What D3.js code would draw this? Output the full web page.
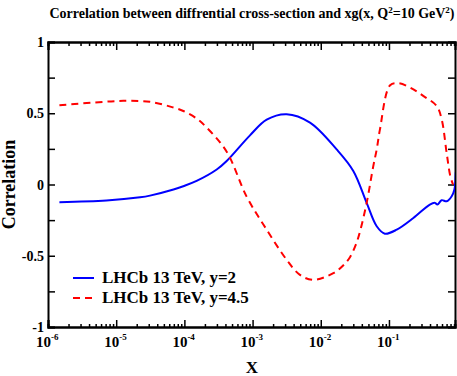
<!DOCTYPE html>
<html>
<head>
<meta charset="utf-8">
<script src="https://cdn.jsdelivr.net/npm/d3@7"></script>
<style>
  body { margin: 0; background: #fff; overflow: hidden; }
  svg { display: block; }
  text { font-family: "Liberation Serif", "Times New Roman", serif; font-weight: bold; }
</style>
</head>
<body>
<svg width="457" height="376"></svg>
<script>
// data
const blueX = [1.47e-6, 7.2e-6, 2.24e-5, 3.13e-5, 6.92e-5, 9.64e-5, 1.51e-4, 2.98e-4, 4.17e-4, 9.16e-4, 1.61e-3, 3.16e-3, 6.95e-3, 1.71e-2, 3.0e-2, 4.71e-2, 6.61e-2, 8.71e-2, 0.13, 0.228, 0.398, 0.472, 0.513, 0.593, 0.701, 0.832, 0.912, 0.955];
const blueY = [-0.124, -0.113, -0.09, -0.078, -0.035, -0.012, 0.025, 0.105, 0.165, 0.345, 0.455, 0.493, 0.434, 0.246, 0.095, -0.129, -0.293, -0.345, -0.317, -0.235, -0.141, -0.129, -0.141, -0.11, -0.118, -0.082, -0.035, 0.085];

const redX = [1.47e-6, 4.61e-6, 1.27e-5, 3.13e-5, 6.92e-5, 9.64e-5, 1.51e-4, 2.12e-4, 4.17e-4, 8.18e-4, 1.61e-3, 3.16e-3, 4.95e-3, 7.76e-3, 1.53e-2, 2.11e-2, 2.68e-2, 3.28e-2, 3.76e-2, 4.71e-2, 5.89e-2, 6.61e-2, 7.38e-2, 0.104, 0.137, 0.203, 0.318, 0.501, 0.593, 0.701, 0.794, 0.871];
const redY = [0.556, 0.575, 0.587, 0.58, 0.54, 0.516, 0.463, 0.4, 0.23, -0.085, -0.317, -0.528, -0.634, -0.669, -0.622, -0.57, -0.51, -0.42, -0.33, -0.129, 0.129, 0.246, 0.387, 0.697, 0.711, 0.681, 0.622, 0.551, 0.458, 0.223, 0.058, 0.0];

const seriesNames = ["LHCb 13 TeV, y=2", "LHCb 13 TeV, y=4.5"];
const yTickLabels = [-1, -0.5, 0, 0.5, 1];
const xDecades = [-6, -5, -4, -3, -2, -1];

const svg = d3.select("svg");
const margin = { top: 42, right: 2, bottom: 49, left: 48 };
const width = +svg.attr("width");
const height = +svg.attr("height");
const innerWidth = width - margin.left - margin.right;
const innerHeight = height - margin.top - margin.bottom;

const xScale = d3.scaleLog().domain([1e-6, 0.93]).range([0, innerWidth]);
const yScale = d3.scaleLinear().domain([-1, 1]).range([innerHeight, 0]);

const g = svg.append("g").attr("transform", `translate(${margin.left}, ${margin.top})`);

// minor + major x ticks
const xMinor = [];
xDecades.forEach((p) => {
  for (let k = 2; k <= 9; k++) {
    const v = k * Math.pow(10, p);
    if (v <= 0.93) xMinor.push(v);
  }
});
const xMajor = xDecades.map((p) => Math.pow(10, p));

const bottomMinor = d3.axisBottom(xScale).tickValues(xMinor).tickSize(-3).tickFormat("");
const bottomMajor = d3.axisBottom(xScale).tickValues(xMajor).tickSize(-7).tickFormat("");
const topMinor = d3.axisTop(xScale).tickValues(xMinor).tickSize(-4).tickFormat("");
const topMajor = d3.axisTop(xScale).tickValues(xMajor).tickSize(-8).tickFormat("");

[bottomMinor, bottomMajor].forEach((ax) =>
  g.append("g").attr("class", "axis").attr("transform", `translate(0, ${innerHeight})`).call(ax)
);
[topMinor, topMajor].forEach((ax) => g.append("g").attr("class", "axis").call(ax));

const yTicks = d3.range(-1, 1.001, 0.25);
g.append("g").attr("class", "axis").call(d3.axisLeft(yScale).tickValues(yTicks).tickSize(-7).tickFormat(""));
g.append("g")
  .attr("class", "axis")
  .attr("transform", `translate(${innerWidth}, 0)`)
  .call(d3.axisRight(yScale).tickValues(yTicks).tickSize(-7).tickFormat(""));

g.selectAll(".axis path").attr("stroke", "#000").attr("stroke-width", 2);
g.selectAll(".axis line").attr("stroke", "#000").attr("stroke-width", 1.5);

// y tick labels
g.selectAll(".ylab")
  .data(yTickLabels)
  .enter()
  .append("text")
  .attr("class", "ylab")
  .attr("x", -4)
  .attr("y", (d) => yScale(d) + 5)
  .attr("text-anchor", "end")
  .attr("font-size", 14)
  .text((d) => d);

// x tick labels 10^p : base and exponent as separate texts
xDecades.forEach((p) => {
  const cx = xScale(Math.pow(10, p));
  g.append("text")
    .attr("x", cx + 3)
    .attr("y", innerHeight + 20)
    .attr("text-anchor", "end")
    .attr("font-size", 15)
    .text("10");
  g.append("text")
    .attr("x", cx + 3)
    .attr("y", innerHeight + 13)
    .attr("font-size", 9)
    .text(p);
});

// axis titles
svg.append("text")
  .attr("x", 252)
  .attr("y", 373)
  .attr("text-anchor", "middle")
  .attr("font-size", 17)
  .text("X");

svg.append("text")
  .attr("transform", `translate(15, ${margin.top + innerHeight / 2}) rotate(-90)`)
  .attr("text-anchor", "middle")
  .attr("font-size", 18)
  .text("Correlation");

// title, pieces laid out left to right
const titleParts = [
  { t: "Correlation between diffrential cross-section and xg(x, Q", sup: false },
  { t: "2", sup: true },
  { t: "=10 GeV", sup: false },
  { t: "2", sup: true },
  { t: ")", sup: false },
];
const titleG = svg.append("g");
let tx = 0;
titleParts.forEach((p) => {
  const el = titleG.append("text")
    .attr("x", tx)
    .attr("y", p.sup ? 13 : 18)
    .attr("font-size", p.sup ? 9 : 14)
    .text(p.t);
  tx += el.node().getComputedTextLength();
});
titleG.attr("transform", `translate(${252 - tx / 2}, 0)`);

// curves
svg.append("clipPath").attr("id", "clip")
  .append("rect").attr("width", innerWidth).attr("height", innerHeight);

const line = d3.line()
  .x((d) => xScale(d[0]))
  .y((d) => yScale(d[1]))
  .curve(d3.curveCatmullRom.alpha(0.5));

const blueData = blueX.map((x, i) => [x, blueY[i]]);
const redData = redX.map((x, i) => [x, redY[i]]);

const plot = g.append("g").attr("clip-path", "url(#clip)");
plot.append("path")
  .attr("d", line(blueData))
  .attr("fill", "none")
  .attr("stroke", "#0000ff")
  .attr("stroke-width", 2);
plot.append("path")
  .attr("d", line(redData))
  .attr("fill", "none")
  .attr("stroke", "#ff0000")
  .attr("stroke-width", 2)
  .attr("stroke-dasharray", "7,5");

// legend
const legendColors = ["#0000ff", "#ff0000"];
const legend = svg.selectAll("g.legend")
  .data(seriesNames)
  .enter()
  .append("g")
  .attr("class", "legend")
  .attr("transform", (d, i) => `translate(73, ${278 + i * 20})`);

legend.append("line")
  .attr("x1", 0)
  .attr("x2", 21)
  .attr("stroke", (d, i) => legendColors[i])
  .attr("stroke-width", 2)
  .attr("stroke-dasharray", (d, i) => (i === 1 ? "7,5" : null));

legend.append("text")
  .attr("x", 29)
  .attr("y", 5)
  .attr("font-size", 17)
  .text((d) => d);
</script>
</body>
</html>
